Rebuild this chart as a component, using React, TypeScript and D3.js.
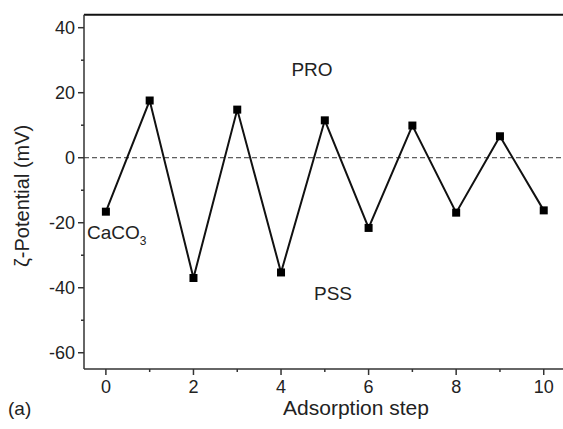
import { useEffect, useRef } from 'react';
import * as d3 from 'd3';

const steps = [0, 1, 2, 3, 4, 5, 6, 7, 8, 9, 10];
const zeta = [-16.6, 17.6, -37.0, 14.8, -35.3, 11.5, -21.6, 9.9, -16.9, 6.6, -16.2];
const xMajor = [0, 2, 4, 6, 8, 10];
const xMinor = [1, 3, 5, 7, 9];
const yMajor = [40, 20, 0, -20, -40, -60];
const yMinor = [30, 10, -10, -30, -50];

const W = 563;
const H = 429;
const FONT = 'Liberation Sans, Arial, Helvetica, sans-serif';

export default function App() {
  const svgRef = useRef<SVGSVGElement>(null);

  useEffect(() => {
    if (!svgRef.current) return;
    const svg = d3.select(svgRef.current);
    svg.selectAll('*').remove();

    const left = 84, right = W, top = 14.7, bottom = 369;

    const x = d3.scaleLinear().domain([-0.5, 10.44]).range([left, right]);
    const y = d3.scaleLinear().domain([-65, 44]).range([bottom, top]);

    // frame: top line, left axis, bottom axis
    svg.append('line')
      .attr('x1', left).attr('x2', right).attr('y1', top).attr('y2', top)
      .attr('stroke', '#111').attr('stroke-width', 2);
    svg.append('line')
      .attr('x1', left).attr('x2', left).attr('y1', top).attr('y2', bottom)
      .attr('stroke', '#333').attr('stroke-width', 1.5);
    svg.append('line')
      .attr('x1', left).attr('x2', right).attr('y1', bottom).attr('y2', bottom)
      .attr('stroke', '#333').attr('stroke-width', 1.5);

    // x ticks
    svg.selectAll('.xt')
      .data(xMajor)
      .join('line')
      .attr('x1', d => x(d)).attr('x2', d => x(d))
      .attr('y1', bottom).attr('y2', bottom + 6)
      .attr('stroke', '#333').attr('stroke-width', 1.5);
    svg.selectAll('.xm')
      .data(xMinor)
      .join('line')
      .attr('x1', d => x(d)).attr('x2', d => x(d))
      .attr('y1', bottom).attr('y2', bottom + 3)
      .attr('stroke', '#333').attr('stroke-width', 1.5);
    svg.selectAll('.xl')
      .data(xMajor)
      .join('text')
      .attr('x', d => x(d)).attr('y', bottom + 24)
      .attr('text-anchor', 'middle')
      .attr('font-family', FONT).attr('font-size', 18).attr('fill', '#222')
      .text(d => d);

    // y ticks
    svg.selectAll('.yt')
      .data(yMajor)
      .join('line')
      .attr('x1', left - 6).attr('x2', left)
      .attr('y1', d => y(d)).attr('y2', d => y(d))
      .attr('stroke', '#333').attr('stroke-width', 1.5);
    svg.selectAll('.ym')
      .data(yMinor)
      .join('line')
      .attr('x1', left - 3).attr('x2', left)
      .attr('y1', d => y(d)).attr('y2', d => y(d))
      .attr('stroke', '#333').attr('stroke-width', 1.5);
    svg.selectAll('.yl')
      .data(yMajor)
      .join('text')
      .attr('x', left - 9).attr('y', d => y(d))
      .attr('dy', '0.35em')
      .attr('text-anchor', 'end')
      .attr('font-family', FONT).attr('font-size', 18).attr('fill', '#222')
      .text(d => d);

    // zero reference
    svg.append('line')
      .attr('x1', left).attr('x2', right).attr('y1', y(0)).attr('y2', y(0))
      .attr('stroke', '#333').attr('stroke-width', 1)
      .attr('stroke-dasharray', '5,3');

    // series
    const pts = steps.map((s, i) => [s, zeta[i]] as [number, number]);
    const line = d3.line<[number, number]>()
      .x(d => x(d[0]))
      .y(d => y(d[1]));
    svg.append('path')
      .datum(pts)
      .attr('fill', 'none')
      .attr('stroke', '#111')
      .attr('stroke-width', 2)
      .attr('d', line);
    svg.selectAll('.pt')
      .data(pts)
      .join('rect')
      .attr('x', d => x(d[0]) - 4).attr('y', d => y(d[1]) - 4)
      .attr('width', 8).attr('height', 8)
      .attr('fill', '#000');

    // annotations
    const txt = (tx: number, ty: number, s: string, size = 19, anchor = 'middle') =>
      svg.append('text')
        .attr('x', tx).attr('y', ty)
        .attr('text-anchor', anchor)
        .attr('font-family', FONT).attr('font-size', size).attr('fill', '#222')
        .text(s);

    txt(312, 76, 'PRO');
    txt(333, 300, 'PSS');
    const ca = txt(87, 239, 'CaCO', 19, 'start');
    ca.append('tspan')
      .attr('font-size', 12).attr('dy', 6).text('3');
    txt(356, 415, 'Adsorption step', 21);
    txt(8, 415, '(a)', 19, 'start');

    svg.append('text')
      .attr('transform', `translate(29,${(top + bottom) / 2 + 4}) rotate(-90)`)
      .attr('text-anchor', 'middle')
      .attr('font-family', FONT).attr('font-size', 20).attr('fill', '#222')
      .text('ζ-Potential (mV)');
  }, []);

  return (
    <svg
      ref={svgRef}
      width={W}
      height={H}
      style={{ position: 'absolute', left: 0, top: 0, background: '#fff' }}
    />
  );
}
